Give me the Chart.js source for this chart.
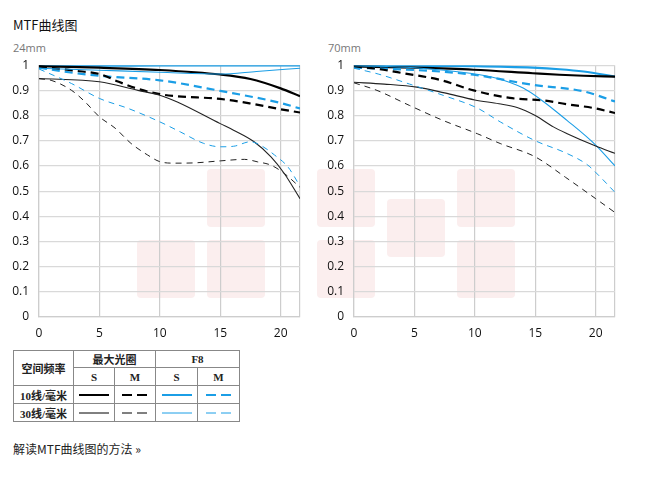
<!DOCTYPE html>
<html>
<head>
<meta charset="utf-8">
<script src="https://cdn.jsdelivr.net/npm/chart.js@4.4.1/dist/chart.umd.min.js"></script>
<style>
  body { margin: 0; background: #fff; }
  #wrap { position: relative; width: 653px; height: 484px; overflow: hidden; }
  .wm { position: absolute; width: 58px; height: 58px; background: #fbeeee; border-radius: 4px; }
  .txt { position: absolute; white-space: nowrap; }
  .cv { position: absolute; top: 48px; }
  table.lg { position: absolute; left: 13px; top: 350px; border-collapse: collapse;
    font-family: "Liberation Serif", "Noto Sans CJK SC", serif; font-weight: bold; font-size: 11px; color: #222; }
  table.lg td { border: 1px solid #888; text-align: center; padding: 0; }
  table.lg svg { display: block; margin: 0 auto; }
</style>
</head>
<body>
<div id="wrap">
  <!-- watermark blocks -->
  <div class="wm" style="left:207px;top:169px"></div>
  <div class="wm" style="left:137px;top:240px"></div>
  <div class="wm" style="left:207px;top:240px"></div>
  <div class="wm" style="left:317px;top:169px"></div>
  <div class="wm" style="left:317px;top:240px"></div>
  <div class="wm" style="left:387px;top:199px"></div>
  <div class="wm" style="left:457px;top:169px"></div>
  <div class="wm" style="left:457px;top:240px"></div>

  <div class="txt" style="left:13px;top:15px;font:13px 'Noto Sans CJK SC',sans-serif;color:#111">MTF曲线图</div>
  <div class="txt" style="left:13px;top:40px;font:11px 'Open Sans',sans-serif;color:#777">24mm</div>
  <div class="txt" style="left:328px;top:40px;font:11px 'Open Sans',sans-serif;color:#777">70mm</div>

  <div class="cv" style="left:0px"><canvas id="c24" width="310" height="297"></canvas></div>
  <div class="cv" style="left:315px"><canvas id="c70" width="310" height="297"></canvas></div>

  <table class="lg">
    <tr style="height:17px">
      <td rowspan="2" style="width:59px">空间频率</td>
      <td colspan="2">最大光圈</td>
      <td colspan="2">F8</td>
    </tr>
    <tr style="height:18px">
      <td style="width:40px">S</td><td style="width:40px">M</td>
      <td style="width:41px">S</td><td style="width:41px">M</td>
    </tr>
    <tr style="height:18px">
      <td>10线/毫米</td>
      <td><svg width="30" height="6"><line x1="0" y1="3" x2="30" y2="3" stroke="#000" stroke-width="2"/></svg></td>
      <td><svg width="26" height="6"><line x1="0" y1="3" x2="26" y2="3" stroke="#000" stroke-width="2" stroke-dasharray="10,5"/></svg></td>
      <td><svg width="30" height="6"><line x1="0" y1="3" x2="30" y2="3" stroke="#1b9ee6" stroke-width="2"/></svg></td>
      <td><svg width="26" height="6"><line x1="0" y1="3" x2="26" y2="3" stroke="#1b9ee6" stroke-width="2" stroke-dasharray="10,5"/></svg></td>
    </tr>
    <tr style="height:18px">
      <td>30线/毫米</td>
      <td><svg width="30" height="6"><line x1="0" y1="3" x2="30" y2="3" stroke="#000" stroke-width="1"/></svg></td>
      <td><svg width="26" height="6"><line x1="0" y1="3" x2="26" y2="3" stroke="#000" stroke-width="1" stroke-dasharray="10,5"/></svg></td>
      <td><svg width="30" height="6"><line x1="0" y1="3" x2="30" y2="3" stroke="#1b9ee6" stroke-width="1"/></svg></td>
      <td><svg width="26" height="6"><line x1="0" y1="3" x2="26" y2="3" stroke="#1b9ee6" stroke-width="1" stroke-dasharray="10,5"/></svg></td>
    </tr>
  </table>

  <div class="txt" style="left:13px;top:440px;font:12px 'Noto Sans CJK SC',sans-serif;color:#222">解读MTF曲线图的方法 »</div>
</div>

<script>
// axis ticks
const xTicks = [0, 5, 10, 15, 20];
const xMax = 21.6;
const yTicks = [0, 0.1, 0.2, 0.3, 0.4, 0.5, 0.6, 0.7, 0.8, 0.9, 1];

// 24mm
const w_maxS10_x = [0, 5, 10, 15, 17.5, 20, 21.6];
const w_maxS10_y = [0.996, 0.99, 0.981, 0.963, 0.945, 0.908, 0.877];
const w_maxM10_x = [0, 3, 5, 6.6, 8.2, 10, 11.4, 15, 17.5, 20, 21.6];
const w_maxM10_y = [0.995, 0.978, 0.965, 0.934, 0.906, 0.885, 0.877, 0.866, 0.848, 0.825, 0.812];
const w_f8S10_x = [0, 5, 10, 15, 20, 21.6];
const w_f8S10_y = [0.998, 0.998, 0.999, 0.999, 0.999, 0.999];
const w_f8M10_x = [0, 2, 5, 10, 15, 20, 21.6];
const w_f8M10_y = [0.99, 0.975, 0.958, 0.94, 0.898, 0.85, 0.828];
const w_maxS30_x = [0, 5, 8.2, 10, 11.4, 15, 16.1, 17.8, 19.2, 20.3, 21.6];
const w_maxS30_y = [0.947, 0.934, 0.9, 0.881, 0.855, 0.768, 0.742, 0.696, 0.636, 0.57, 0.47];
const w_maxM30_x = [0, 1, 2.7, 3.8, 5, 6.3, 7.6, 9, 10, 11.2, 12.8, 15, 17, 18.1, 19.2, 20.3, 21.1, 21.6];
const w_maxM30_y = [0.946, 0.94, 0.9, 0.855, 0.795, 0.75, 0.69, 0.643, 0.617, 0.611, 0.612, 0.62, 0.626, 0.616, 0.603, 0.57, 0.537, 0.515];
const w_f8S30_x = [0, 5, 10, 15, 18, 21.6];
const w_f8S30_y = [0.988, 0.98, 0.972, 0.965, 0.975, 0.988];
const w_f8M30_x = [0, 2.7, 5, 7.4, 10, 11.7, 13.6, 15, 16.1, 17.5, 18.3, 19.5, 20.6, 21.6];
const w_f8M30_y = [0.985, 0.927, 0.868, 0.828, 0.775, 0.735, 0.69, 0.676, 0.678, 0.696, 0.683, 0.643, 0.596, 0.52];

// 70mm
const t_maxS10_x = [0, 5, 9.9, 14.8, 17, 19, 21.6];
const t_maxS10_y = [0.995, 0.99, 0.982, 0.968, 0.962, 0.958, 0.955];
const t_maxM10_x = [0, 2, 4.1, 7.1, 9.9, 12.9, 15.7, 17.6, 19.8, 21.6];
const t_maxM10_y = [0.996, 0.985, 0.968, 0.942, 0.9, 0.87, 0.86, 0.845, 0.83, 0.81];
const t_f8S10_x = [0, 5, 10, 14.8, 17, 19, 21.6];
const t_f8S10_y = [0.999, 0.998, 0.996, 0.99, 0.984, 0.975, 0.955];
const t_f8M10_x = [0, 4, 7.1, 9.9, 14.8, 19, 21.6];
const t_f8M10_y = [0.99, 0.983, 0.975, 0.962, 0.922, 0.896, 0.856];
const t_maxS30_x = [0, 2.5, 5.2, 7.5, 10, 12, 13.5, 15, 16.5, 17.6, 20, 21.6];
const t_maxS30_y = [0.932, 0.925, 0.913, 0.89, 0.862, 0.847, 0.832, 0.8, 0.755, 0.729, 0.679, 0.65];
const t_maxM30_x = [0, 1.9, 4.6, 7.4, 10.2, 12.1, 15, 17.5, 20, 21.6];
const t_maxM30_y = [0.93, 0.9, 0.84, 0.78, 0.728, 0.689, 0.636, 0.555, 0.47, 0.415];
const t_f8S30_x = [0, 5, 9.6, 11.8, 14, 15.5, 17.6, 20, 21.6];
const t_f8S30_y = [0.998, 0.99, 0.968, 0.948, 0.909, 0.862, 0.782, 0.683, 0.6];
const t_f8M30_x = [0, 2, 4.6, 7.4, 10.2, 12.1, 15, 17.6, 19.3, 20.3, 21.6];
const t_f8M30_y = [0.988, 0.965, 0.925, 0.88, 0.83, 0.775, 0.7, 0.65, 0.605, 0.56, 0.495];

const BLACK = '#000';
const GREY = '#222';
const BLUE = '#1b9ee6';

function pts(xs, ys) {
  return xs.map((x, i) => ({ x: x, y: ys[i] }));
}

function ds(xs, ys, color, width, dash) {
  return {
    data: pts(xs, ys),
    borderColor: color,
    borderWidth: width,
    borderDash: dash,
    pointRadius: 0,
    fill: false,
    cubicInterpolationMode: 'monotone'
  };
}

function makeChart(id, s) {
  const ctx = document.getElementById(id);
  return new Chart(ctx, {
    type: 'line',
    data: {
      datasets: [
        ds(s.maxM30x, s.maxM30y, GREY, 1, [6, 5]),
        ds(s.f8M30x, s.f8M30y, BLUE, 1, [6, 5]),
        ds(s.maxS30x, s.maxS30y, GREY, 1.1, []),
        ds(s.f8S30x, s.f8S30y, BLUE, 1.1, []),
        ds(s.maxM10x, s.maxM10y, BLACK, 2.2, [8, 5]),
        ds(s.f8M10x, s.f8M10y, BLUE, 2.2, [8, 5]),
        ds(s.maxS10x, s.maxS10y, BLACK, 2.2, []),
        ds(s.f8S10x, s.f8S10y, BLUE, 2.2, [])
      ]
    },
    options: {
      responsive: false,
      animation: false,
      layout: { padding: { top: 10, right: 10, left: 0, bottom: 0 } },
      plugins: { legend: { display: false }, tooltip: { enabled: false } },
      scales: {
        x: {
          type: 'linear',
          min: 0,
          max: xMax,
          afterBuildTicks: (sc) => { sc.ticks = xTicks.concat([xMax]).map(v => ({ value: v })); },
          afterFit: (sc) => { sc.height = 28; },
          grid: { color: '#cdcdcd', lineWidth: 1.2, drawTicks: false },
          border: { color: '#cdcdcd', width: 1.2 },
          ticks: {
            padding: 9,
            color: '#111',
            font: { family: 'Open Sans', size: 12 },
            autoSkip: false,
            maxRotation: 0,
            callback: (v) => xTicks.includes(v) ? String(v) : ''
          }
        },
        y: {
          min: 0,
          max: 1,
          afterBuildTicks: (sc) => { sc.ticks = yTicks.map(v => ({ value: v })); },
          afterFit: (sc) => { sc.width = 39; },
          grid: { color: '#d9d9d9', lineWidth: 1.2, drawTicks: false },
          border: { color: '#cdcdcd', width: 1.2 },
          ticks: {
            padding: 10,
            color: '#111',
            font: { family: 'Open Sans', size: 12 },
            autoSkip: false,
            callback: (v) => String(Number(v.toFixed(1)))
          }
        }
      }
    }
  });
}

makeChart('c24', {
  maxS10x: w_maxS10_x, maxS10y: w_maxS10_y, maxM10x: w_maxM10_x, maxM10y: w_maxM10_y,
  f8S10x: w_f8S10_x, f8S10y: w_f8S10_y, f8M10x: w_f8M10_x, f8M10y: w_f8M10_y,
  maxS30x: w_maxS30_x, maxS30y: w_maxS30_y, maxM30x: w_maxM30_x, maxM30y: w_maxM30_y,
  f8S30x: w_f8S30_x, f8S30y: w_f8S30_y, f8M30x: w_f8M30_x, f8M30y: w_f8M30_y
});

makeChart('c70', {
  maxS10x: t_maxS10_x, maxS10y: t_maxS10_y, maxM10x: t_maxM10_x, maxM10y: t_maxM10_y,
  f8S10x: t_f8S10_x, f8S10y: t_f8S10_y, f8M10x: t_f8M10_x, f8M10y: t_f8M10_y,
  maxS30x: t_maxS30_x, maxS30y: t_maxS30_y, maxM30x: t_maxM30_x, maxM30y: t_maxM30_y,
  f8S30x: t_f8S30_x, f8S30y: t_f8S30_y, f8M30x: t_f8M30_x, f8M30y: t_f8M30_y
});
</script>
</body>
</html>
